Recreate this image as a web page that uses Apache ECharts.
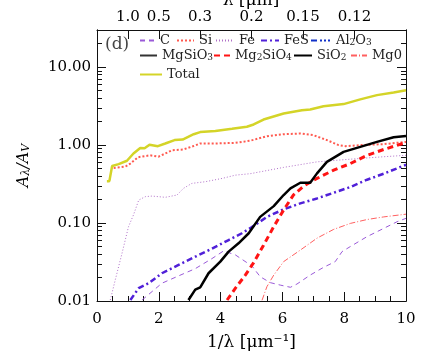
<!DOCTYPE html>
<html>
<head>
<meta charset="utf-8">
<script src="https://cdn.jsdelivr.net/npm/echarts@6/dist/echarts.min.js"></script>
<style>
	html, body { margin: 0; padding: 0; background: #fff; }
	#main { width: 436px; height: 363px; }
</style>
</head>
<body>
<div id="main"></div>
<script>
// 各成分的消光曲线 (x = 1/λ, y = Aλ/AV)
var totalX = [0.32, 0.40, 0.49, 0.70, 0.97, 1.18, 1.40, 1.54, 1.70, 1.97, 2.21, 2.51, 2.77, 3.13, 3.34, 3.83, 4.37, 4.85, 5.07, 5.39, 6.04, 6.63, 6.90, 7.33, 7.98, 8.52, 9.06, 9.60, 10.0];
var totalY = [0.345, 0.345, 0.54, 0.57, 0.63, 0.78, 0.92, 0.91, 1.01, 0.97, 1.05, 1.16, 1.18, 1.38, 1.47, 1.52, 1.62, 1.72, 1.84, 2.13, 2.55, 2.81, 2.87, 3.16, 3.36, 3.86, 4.38, 4.74, 5.07];

var siX = [0.54, 0.92, 1.08, 1.33, 1.72, 1.99, 2.43, 2.80, 3.18, 3.34, 3.83, 4.48, 4.96, 5.50, 6.04, 6.58, 7.01, 7.44, 7.82, 8.04, 8.52, 9.28, 10.0];
var siY = [0.51, 0.53, 0.58, 0.70, 0.74, 0.71, 0.86, 0.88, 0.99, 1.05, 1.05, 1.07, 1.14, 1.30, 1.38, 1.41, 1.34, 1.16, 1.00, 0.97, 1.00, 1.03, 1.10];

var feX = [0.43, 0.59, 0.81, 1.02, 1.18, 1.35, 1.56, 1.78, 2.21, 2.59, 2.80, 3.07, 3.50, 4.05, 4.48, 4.96, 6.04, 7.12, 8.20, 9.28, 10.0];
var feY = [0.0103, 0.0186, 0.041, 0.09, 0.127, 0.197, 0.218, 0.222, 0.214, 0.229, 0.279, 0.323, 0.339, 0.374, 0.412, 0.43, 0.518, 0.61, 0.66, 0.71, 0.74];

var fesX = [1.08, 1.35, 1.67, 2.10, 2.64, 3.18, 3.72, 4.26, 4.69, 5.0, 5.50, 6.04, 6.58, 7.12, 7.66, 8.20, 8.74, 9.28, 10.0];
var fesY = [0.0103, 0.0146, 0.0169, 0.0227, 0.029, 0.037, 0.047, 0.0605, 0.074, 0.088, 0.12, 0.15, 0.179, 0.207, 0.245, 0.29, 0.36, 0.43, 0.56];

var cX = [1.46, 2.10, 2.64, 3.18, 3.72, 4.10, 4.48, 5.02, 5.28, 5.61, 5.93, 6.26, 6.47, 6.90, 7.33, 7.71, 7.93, 8.20, 8.74, 9.28, 9.71, 10.0];
var cY = [0.0103, 0.0169, 0.021, 0.026, 0.035, 0.044, 0.039, 0.028, 0.0205, 0.0172, 0.016, 0.015, 0.0165, 0.0215, 0.027, 0.032, 0.043, 0.05, 0.067, 0.0855, 0.104, 0.115];

var mgoX = [5.34, 5.50, 5.72, 6.04, 6.58, 7.12, 7.66, 8.20, 8.74, 9.28, 10.0];
var mgoY = [0.0102, 0.0153, 0.0215, 0.032, 0.045, 0.064, 0.083, 0.099, 0.111, 0.12, 0.13];

var sio2X = [2.96, 3.18, 3.34, 3.61, 3.99, 4.26, 4.58, 4.91, 5.28, 5.72, 6.04, 6.26, 6.58, 6.90, 7.12, 7.44, 7.98, 8.52, 9.06, 9.60, 10.0];
var sio2Y = [0.0103, 0.014, 0.015, 0.0227, 0.032, 0.043, 0.055, 0.074, 0.12, 0.165, 0.229, 0.279, 0.329, 0.329, 0.434, 0.61, 0.82, 0.95, 1.10, 1.26, 1.31];

var mg2sio4X = [4.21, 4.48, 4.80, 5.07, 5.39, 5.72, 6.04, 6.36, 6.70, 7.12, 7.66, 8.20, 8.74, 9.28, 10.0];
var mg2sio4Y = [0.0103, 0.0146, 0.0215, 0.031, 0.052, 0.09, 0.147, 0.23, 0.30, 0.374, 0.478, 0.58, 0.74, 0.88, 1.08];

// Al2O3 和 MgSiO3 在图中看不到 (低于 0.01)
var al2o3X = [];
var al2o3Y = [];
var mgsio3X = [];
var mgsio3Y = [];

// 刻度
var lambdaTicks = ['1.0', '0.5', '0.3', '0.2', '0.15', '0.12'];
var yMajor = [0.01, 0.1, 1, 10];

function pairs(xs, ys) {
	var out = [];
	for (var i = 0; i < xs.length; i++) {
		out.push([xs[i], ys[i]]);
	}
	return out;
}

var yMinor = [];
for (var i = 0; i < yMajor.length; i++) {
	for (var m = 2; m <= 9; m++) {
		var v = yMajor[i] * m;
		if (v <= 30) yMinor.push(v);
	}
}
var topTicks = lambdaTicks.map(function (t) { return 1 / parseFloat(t); });

var serif = 'DejaVu Serif';

// 图例文字 (下标)
var legendText = {
	'C': '{n|C}',
	'Si': '{n|Si}',
	'Fe': '{n|Fe}',
	'FeS': '{n|FeS}',
	'Al2O3': '{n|Al}{s|2}{n|O}{s|3}',
	'MgSiO3': '{n|MgSiO}{s|3}',
	'Mg2SiO4': '{n|Mg}{s|2}{n|SiO}{s|4}',
	'SiO2': '{n|SiO}{s|2}',
	'Mg0': '{n|Mg0}',
	'Total': '{n|Total}'
};

// 图例位置
var legendPos = [
	['C', 139, 34, 15], ['Si', 176, 34, 17], ['Fe', 215, 34, 18], ['FeS', 260, 34, 18], ['Al2O3', 310, 34, 20],
	['MgSiO3', 139, 49, 17], ['Mg2SiO4', 213, 49, 16], ['SiO2', 293, 49, 18], ['Mg0', 350, 49, 16],
	['Total', 139, 68, 22]
];

var legends = legendPos.map(function (p) {
	return {
		data: [p[0]],
		left: p[1],
		top: p[2],
		padding: 0,
		itemWidth: p[3],
		itemHeight: 14,
		selectedMode: false,
		itemStyle: { opacity: 0, borderWidth: 0 },
		formatter: function (name) { return legendText[name]; },
		textStyle: {
			fontFamily: serif,
			fontSize: 13,
			color: '#222',
			rich: {
				n: { fontFamily: serif, fontSize: 13, color: '#222' },
				s: { fontFamily: serif, fontSize: 9, color: '#222', verticalAlign: 'bottom' }
			}
		}
	};
});

function lineSeries(name, xs, ys, color, width, type) {
	return {
		name: name,
		type: 'line',
		data: pairs(xs, ys),
		symbol: 'none',
		clip: true,
		lineStyle: { color: color, width: width, type: type },
		itemStyle: { color: color }
	};
}

function yAxisDef(pos, ticks, len, labels) {
	return {
		type: 'log',
		position: pos,
		min: 0.01,
		max: 30,
		axisLine: { show: true, lineStyle: { color: '#111', width: 1 } },
		axisTick: { show: true, inside: true, length: len, customValues: ticks, lineStyle: { color: '#111' } },
		axisLabel: {
			show: labels,
			customValues: yMajor,
			margin: 6,
			fontFamily: serif,
			fontSize: 15,
			color: '#000',
			formatter: function (v) { return Number(v).toFixed(2); }
		},
		splitLine: { show: false }
	};
}

var yAxes = [yAxisDef('left', yMajor, 9, true), yAxisDef('left', yMinor, 5, false),
	yAxisDef('right', yMajor, 9, false), yAxisDef('right', yMinor, 5, false)];
yAxes[0].name = '{i|A}{s|λ}{i|/A}{s|V}';
yAxes[0].nameLocation = 'middle';
yAxes[0].nameGap = 65;
yAxes[0].nameTextStyle = {
	rich: {
		i: { fontFamily: serif, fontStyle: 'italic', fontSize: 16, color: '#000' },
		s: { fontFamily: serif, fontStyle: 'italic', fontSize: 11, color: '#000', verticalAlign: 'bottom' }
	}
};

var chart = echarts.init(document.getElementById('main'));
chart.setOption({
	animation: false,
	backgroundColor: '#fff',
	grid: { left: 97, right: 30, top: 30, bottom: 62, containLabel: false, outerBoundsMode: 'none' },
	legend: legends,
	graphic: [{
		type: 'text',
		left: 105,
		top: 36,
		style: { text: '(d)', fontFamily: serif, fontSize: 17, fill: '#444' }
	}, {
		// 上方坐标轴标题 (顶部被截掉一部分)
		type: 'text',
		x: 251,
		y: 9,
		style: { text: 'λ [μm]', fontFamily: serif, fontSize: 17, fill: '#000', align: 'center', verticalAlign: 'bottom' }
	}],
	xAxis: [{
		type: 'value',
		position: 'bottom',
		min: 0,
		max: 10,
		interval: 2,
		name: '1/λ [μm⁻¹]',
		nameLocation: 'middle',
		nameGap: 33,
		nameTextStyle: { fontFamily: serif, fontSize: 17, color: '#000' },
		axisLine: { show: true, lineStyle: { color: '#111', width: 1 } },
		axisTick: { show: true, inside: true, length: 9, lineStyle: { color: '#111' } },
		minorTick: { show: true, splitNumber: 4, length: 5, lineStyle: { color: '#111' } },
		axisLabel: { margin: 11, fontFamily: serif, fontSize: 15, color: '#000' },
		splitLine: { show: false }
	}, {
		type: 'value',
		position: 'top',
		min: 0,
		max: 10,
		axisLine: { show: true, lineStyle: { color: '#111', width: 1 } },
		axisTick: { show: true, inside: true, length: 9, customValues: topTicks, lineStyle: { color: '#111' } },
		axisLabel: {
			customValues: topTicks,
			margin: 5,
			fontFamily: serif,
			fontSize: 15,
			color: '#000',
			formatter: function (v) {
				for (var i = 0; i < topTicks.length; i++) {
					if (Math.abs(topTicks[i] - v) < 1e-6) return lambdaTicks[i];
				}
				return '';
			}
		},
		splitLine: { show: false }
	}],
	yAxis: yAxes,
	series: [
		lineSeries('C', cX, cY, '#9a5ad8', 1, [5, 4]),
		lineSeries('Si', siX, siY, '#ff5a50', 2, [2, 2]),
		lineSeries('Fe', feX, feY, '#b070c8', 1, [1, 2]),
		lineSeries('FeS', fesX, fesY, '#5020d8', 2.5, [6, 3, 2, 3]),
		lineSeries('Al2O3', al2o3X, al2o3Y, '#1030c8', 2.5, [6, 3, 2, 2, 2, 2, 2, 3]),
		lineSeries('MgSiO3', mgsio3X, mgsio3Y, '#333', 1, 'solid'),
		lineSeries('Mg2SiO4', mg2sio4X, mg2sio4Y, '#ff1414', 3, [6, 4]),
		lineSeries('SiO2', sio2X, sio2Y, '#000', 2.5, 'solid'),
		lineSeries('Mg0', mgoX, mgoY, '#ff6060', 1, [6, 2, 1, 2]),
		lineSeries('Total', totalX, totalY, '#d4d428', 2.5, 'solid')
	]
});
</script>
</body>
</html>
